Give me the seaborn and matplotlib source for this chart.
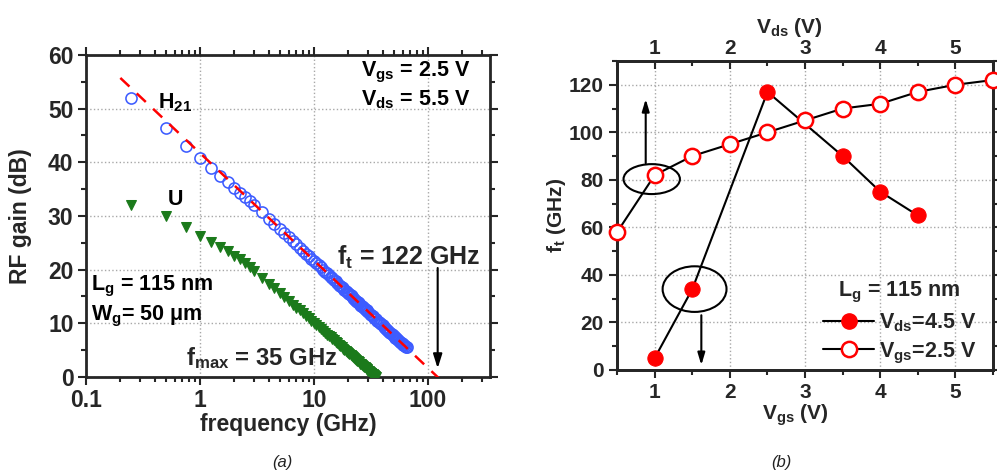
import numpy as np
import matplotlib
matplotlib.use("Agg")
import matplotlib.pyplot as plt
import seaborn as sns
from matplotlib.patches import Ellipse
from matplotlib.lines import Line2D
from matplotlib.ticker import FixedLocator, MultipleLocator

# ---------------- data (panel a) ----------------
h21_freq = [0.25, 0.5, 0.75, 1.0, 1.25, 1.5, 1.75, 2.0, 2.25, 2.5, 2.75, 3.0,
            3.5, 4.0, 4.5, 5.0, 5.5, 6.0, 6.5, 7.0, 7.5, 8.0, 8.5, 9.0, 9.5, 10,
            10.5, 11, 11.5, 12, 12.5, 13, 13.5, 14, 14.5, 15, 15.5, 16, 16.5, 17,
            17.5, 18, 18.5, 19, 19.5, 20, 20.5, 21, 21.5, 22, 22.5, 23, 23.5, 24,
            24.5, 25, 25.5, 26, 26.5, 27, 27.5, 28, 28.5, 29, 29.5, 30,
            31, 32, 33, 34, 35, 36, 37, 38, 39, 40, 41, 42, 43, 44, 45, 46,
            47, 48, 49, 50, 51, 52, 53, 54, 55, 56, 57, 58, 59, 60, 61, 62, 63, 64, 65]
h21_gain = [52.0, 46.3, 43.0, 40.7, 39.0, 37.5, 36.3, 35.2, 34.3, 33.5, 32.8, 32.0,
            30.7, 29.5, 28.5, 27.6, 26.8, 26.0, 25.3, 24.7, 24.1, 23.5, 23.0, 22.5, 22.0, 21.6,
            21.2, 20.8, 20.4, 20.0, 19.6, 19.3, 19.0, 18.7, 18.4, 18.1, 17.8, 17.5, 17.2, 17.0,
            16.7, 16.5, 16.2, 16.0, 15.8, 15.6, 15.4, 15.2, 15.0, 14.8, 14.6, 14.4, 14.2, 14.0,
            13.9, 13.7, 13.5, 13.3, 13.2, 13.0, 12.9, 12.7, 12.5, 12.4, 12.2, 12.1,
            11.8, 11.5, 11.3, 11.0, 10.8, 10.5, 10.3, 10.1, 9.8, 9.6,
            9.4, 9.2, 9.0, 8.8, 8.6, 8.4, 8.2, 8.0, 7.8, 7.7,
            7.5, 7.3, 7.2, 7.0, 6.9, 6.7, 6.6, 6.4, 6.3, 6.1,
            6.0, 5.9, 5.7, 5.6, 5.6]

u_freq = [0.25, 0.5, 0.75, 1.0, 1.25, 1.5, 1.75, 2.0, 2.25, 2.5, 2.75, 3.0,
          3.5, 4.0, 4.5, 5.0, 5.5, 6.0, 6.5, 7.0, 7.5, 8.0, 8.5, 9.0, 9.5, 10,
          10.5, 11, 11.5, 12, 12.5, 13, 13.5, 14, 14.5, 15, 15.5, 16, 16.5, 17,
          17.5, 18, 18.5, 19, 19.5, 20, 20.5, 21, 21.5, 22, 22.5, 23, 23.5, 24,
          24.5, 25, 25.5, 26, 26.5, 27, 27.5, 28, 28.5, 29, 29.5, 30,
          30.5, 31, 31.5, 32, 32.5, 33, 33.5, 34, 34.5, 35]
u_gain = [32.0, 30.0, 28.0, 26.3, 25.2, 24.2, 23.4, 22.6, 21.9, 21.2, 20.5, 19.8,
          18.5, 17.4, 16.5, 15.6, 14.9, 14.2, 13.5, 12.9, 12.4, 11.9, 11.4, 10.9, 10.5, 10.1,
          9.7, 9.3, 8.9, 8.6, 8.2, 7.9, 7.6, 7.4, 7.1, 6.8, 6.5, 6.3, 6.0, 5.8,
          5.5, 5.3, 5.1, 4.9, 4.7, 4.5, 4.3, 4.1, 3.9, 3.7, 3.5, 3.4, 3.2, 3.0,
          2.9, 2.7, 2.5, 2.4, 2.2, 2.1, 1.9, 1.8, 1.6, 1.5, 1.3, 1.2,
          1.1, 1.0, 0.8, 0.7, 0.6, 0.5, 0.3, 0.2, 0.1, 0.0]

fit_freq = [0.2, 135.0]
fit_gain = [55.7, -0.9]

xticks_a = [0.1, 1, 10, 100]
xticklabels_a = ["0.1", "1", "10", "100"]

# ---------------- data (panel b) ----------------
vgs_values = [1.0, 1.5, 2.5, 3.5, 4.0, 4.5]
ft_vds45 = [5, 34, 117, 90, 75, 65]
vds_values = [0.5, 1.0, 1.5, 2.0, 2.5, 3.0, 3.5, 4.0, 4.5, 5.0, 5.5]
ft_vgs25 = [58, 82, 90, 95, 100, 105, 110, 112, 117, 120, 122]

# ---------------- style ----------------
sns.set_theme(style="ticks")
plt.rcParams["font.family"] = ["Liberation Sans", "DejaVu Sans"]
plt.rcParams["font.weight"] = "bold"
plt.rcParams["axes.labelweight"] = "bold"
plt.rcParams["mathtext.fontset"] = "custom"
plt.rcParams["mathtext.rm"] = "Liberation Sans:bold"
plt.rcParams["mathtext.it"] = "Liberation Sans:bold"
plt.rcParams["mathtext.bf"] = "Liberation Sans:bold"
plt.rcParams["mathtext.default"] = "rm"

FSA = 16.5   # panel a ticks / labels
FSN = 15.5   # panel a notes
FSB = 15     # panel b
BLUE = "#3d5cff"
GREEN = "#1b7a1b"
RED = "#ff0000"
GRIDC = "#a8a8a8"

fig = plt.figure(figsize=(9.97, 4.73), dpi=100)
axa = fig.add_axes([0.0863, 0.203, 0.405, 0.681])
axb = fig.add_axes([0.619, 0.218, 0.377, 0.653])

# ---------------- panel a ----------------
axa.set_xscale("log")
axa.set_xlim(0.1, 350)
axa.set_ylim(0, 60)
axa.set_axisbelow(True)
axa.grid(True, which="major", color=GRIDC, linestyle=":", linewidth=1.0)

sns.lineplot(x=u_freq, y=u_gain, ax=axa, marker="v", linestyle="none",
             color=GREEN, markersize=6.5, markeredgecolor=GREEN, zorder=3)
sns.lineplot(x=h21_freq, y=h21_gain, ax=axa, marker="o", linestyle="none",
             color=BLUE, markersize=8, markerfacecolor="none",
             markeredgecolor=BLUE, markeredgewidth=1.15, zorder=4)
sns.lineplot(x=fit_freq, y=fit_gain, ax=axa, color=RED, linewidth=1.8,
             dashes=(5, 4), zorder=5)

axa.xaxis.set_major_locator(FixedLocator(xticks_a))
axa.set_xticklabels(xticklabels_a)
axa.yaxis.set_major_locator(MultipleLocator(10))
axa.yaxis.set_minor_locator(MultipleLocator(5))
axa.tick_params(which="both", direction="out", top=True, right=True,
                labelsize=FSA, width=1.5)
axa.tick_params(which="major", length=6, pad=3)
axa.tick_params(which="minor", length=3.5)
for sp in axa.spines.values():
    sp.set_linewidth(2)
axa.set_xlabel("frequency (GHz)", fontsize=FSA)
axa.set_ylabel("RF gain (dB)", fontsize=FSA)
axa.yaxis.set_label_coords(-0.133, 0.5)
axa.xaxis.set_label_coords(0.5, -0.112)

tkw = dict(fontsize=FSN, fontweight="bold", color="black")
axa.text(0.43, 50.1, "H$_{21}$", ha="left", va="baseline", **tkw)
axa.text(0.52, 32.0, "U", ha="left", va="baseline", **tkw)
axa.text(235, 55.9, "V$_{gs}$ = 2.5 V", ha="right", va="baseline", **tkw)
axa.text(235, 50.6, "V$_{ds}$ = 5.5 V", ha="right", va="baseline", **tkw)
axa.text(0.11, 16.2, "L$_{g}$ = 115 nm", ha="left", va="baseline", **tkw)
axa.text(0.11, 10.6, "W$_{g}$= 50 μm", ha="left", va="baseline", **tkw)
axa.text(0.75, 2.2, "f$_{max}$ = 35 GHz", ha="left", va="baseline",
         fontsize=17.2, fontweight="bold")
axa.text(16.0, 20.9, "f$_{t}$ = 122 GHz", ha="left", va="baseline",
         fontsize=18, fontweight="bold")
axa.annotate("", xy=(122, 1.6), xytext=(122, 20.3),
             arrowprops=dict(arrowstyle="-|>,head_width=0.22,head_length=0.7",
                             color="black", lw=1.5, shrinkA=0, shrinkB=0))

# ---------------- panel b ----------------
axb.set_xlim(0.5, 5.5)
axb.set_ylim(0, 130)
axb.set_axisbelow(True)
axb.grid(True, which="major", color=GRIDC, linestyle=":", linewidth=1.0)

axt = axb.twiny()
axt.set_xlim(0.5, 5.5)

sns.lineplot(x=vgs_values, y=ft_vds45, ax=axb, color="black", linewidth=1.5,
             marker="o", markersize=11, markerfacecolor=RED,
             markeredgecolor=RED, zorder=4, clip_on=False)
sns.lineplot(x=vds_values, y=ft_vgs25, ax=axt, color="black", linewidth=1.5,
             marker="o", markersize=11, markerfacecolor="white",
             markeredgecolor=RED, markeredgewidth=1.8, zorder=4, clip_on=False)

axb.add_patch(Ellipse((0.96, 80.3), 0.75, 12.6, fill=False, lw=1.5,
                      edgecolor="black", zorder=5))
axb.add_patch(Ellipse((1.53, 34.0), 0.85, 19.2, fill=False, lw=1.5,
                      edgecolor="black", zorder=5))
axb.annotate("", xy=(0.88, 114), xytext=(0.88, 87),
             arrowprops=dict(arrowstyle="-|>,head_width=0.18,head_length=0.6",
                             color="black", lw=1.5, shrinkA=0, shrinkB=0))
axb.annotate("", xy=(1.62, 2.0), xytext=(1.62, 23),
             arrowprops=dict(arrowstyle="-|>,head_width=0.18,head_length=0.6",
                             color="black", lw=1.5, shrinkA=0, shrinkB=0))

axb.xaxis.set_major_locator(MultipleLocator(1))
axb.xaxis.set_minor_locator(MultipleLocator(0.5))
axb.yaxis.set_major_locator(MultipleLocator(20))
axb.yaxis.set_minor_locator(MultipleLocator(10))
axb.tick_params(which="both", labelsize=FSB, width=1.5)
axb.tick_params(axis="x", which="both", direction="out")
axb.tick_params(axis="y", which="both", direction="out", right=True)
axb.tick_params(which="major", length=6)
axb.tick_params(which="minor", length=3.5)
axt.xaxis.set_major_locator(MultipleLocator(1))
axt.xaxis.set_minor_locator(MultipleLocator(0.5))
axt.tick_params(axis="x", which="both", direction="in", labelsize=FSB,
                width=1.5, pad=2)
axt.tick_params(which="major", length=6)
axt.tick_params(which="minor", length=3.5)
for a in (axb, axt):
    for sp in a.spines.values():
        sp.set_linewidth(2)

axb.set_xlabel("V$_{gs}$ (V)", fontsize=FSB)
axb.xaxis.set_label_coords(0.475, -0.105)
axb.set_ylabel("f$_{t}$ (GHz)", fontsize=FSB)
axb.yaxis.set_label_coords(-0.13, 0.5)
axt.set_xlabel("V$_{ds}$ (V)", fontsize=FSB)
axt.xaxis.set_label_coords(0.457, 1.09)

h1 = Line2D([], [], color="black", lw=1.5, marker="o", markersize=11,
            markerfacecolor=RED, markeredgecolor=RED)
h2 = Line2D([], [], color="black", lw=1.5, marker="o", markersize=11,
            markerfacecolor="white", markeredgecolor=RED, markeredgewidth=1.8)
leg = axt.legend([h1, h2], ["V$_{ds}$=4.5 V", "V$_{gs}$=2.5 V"],
                 title="L$_{g}$ = 115 nm", loc="lower right",
                 bbox_to_anchor=(0.995, -0.035), frameon=False,
                 prop=dict(size=15.5, weight="bold"),
                 title_fontproperties=dict(size=15.5, weight="bold"),
                 handlelength=2.4, handletextpad=0.2, labelspacing=0.3,
                 borderpad=0.2)

fig.text(0.283, 0.022, "(a)", fontsize=12, fontstyle="italic",
         fontweight="normal", ha="center", va="center", color="#222222")
fig.text(0.784, 0.022, "(b)", fontsize=12, fontstyle="italic",
         fontweight="normal", ha="center", va="center", color="#222222")

fig.savefig("out.png", dpi=100)
